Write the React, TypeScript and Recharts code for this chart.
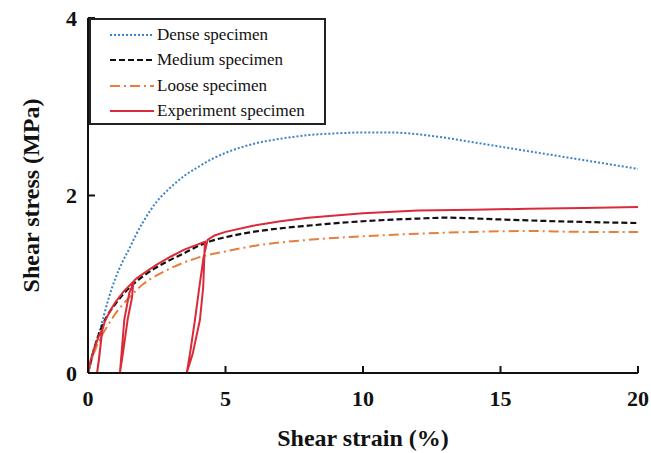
import { LineChart, Line, XAxis, YAxis } from "recharts";

type Pt = { x: number; y: number };

const xTicks = [0, 5, 10, 15, 20];
const yTicks = [0, 2, 4];

const denseStrain = [0, 0.25, 0.5, 0.75, 1, 1.25, 1.5, 1.75, 2, 2.5, 3, 3.5, 4, 4.5, 5, 6, 7, 8, 9, 10, 11, 12, 13, 14, 15, 16, 17, 18, 19, 20];
const denseStress = [0, 0.29, 0.56, 0.84, 1.07, 1.25, 1.4, 1.56, 1.7, 1.93, 2.09, 2.22, 2.32, 2.41, 2.48, 2.58, 2.64, 2.68, 2.7, 2.71, 2.71, 2.69, 2.65, 2.6, 2.55, 2.5, 2.45, 2.4, 2.35, 2.3];

const mediumStrain = [0, 0.25, 0.5, 0.62, 1, 1.5, 2, 2.9, 3.5, 4, 4.5, 5, 6, 7, 8, 10, 12, 13, 15, 17, 20];
const mediumStress = [0, 0.3, 0.52, 0.6, 0.78, 0.96, 1.09, 1.26, 1.35, 1.43, 1.49, 1.53, 1.59, 1.63, 1.66, 1.71, 1.74, 1.75, 1.73, 1.71, 1.69];

const looseStrain = [0, 0.25, 0.5, 0.75, 1, 1.5, 2, 2.5, 3, 4, 5, 6, 8, 10, 12, 14, 16, 18, 20];
const looseStress = [0, 0.25, 0.42, 0.55, 0.67, 0.85, 1.0, 1.1, 1.18, 1.3, 1.37, 1.43, 1.5, 1.54, 1.57, 1.59, 1.6, 1.59, 1.59];

// experiment: envelope with three unload / reload loops
const expStrain = [
  0, 0.1, 0.25, 0.4, 0.5, 0.45, 0.38, 0.33, 0.4, 0.46, 0.52, 0.6,
  0.8, 1.0, 1.3, 1.65, 1.6, 1.44, 1.27, 1.16, 1.22, 1.32, 1.5, 1.7,
  1.83, 2.2, 2.5, 3.0, 3.5, 4.0, 4.25, 4.19, 4.07, 3.81, 3.59, 3.71, 3.89, 4.05, 4.2, 4.35,
  4.6, 5, 6, 7, 8, 10, 12, 14, 16, 18, 20,
];
const expStress = [
  0, 0.15, 0.3, 0.42, 0.48, 0.3, 0.12, 0, 0.15, 0.32, 0.48, 0.57,
  0.7, 0.8, 0.92, 1.03, 0.85, 0.6, 0.22, 0, 0.22, 0.6, 0.9, 1.05,
  1.08, 1.16, 1.22, 1.31, 1.39, 1.45, 1.48, 0.97, 0.6, 0.22, 0, 0.22, 0.6, 0.97, 1.3, 1.5,
  1.55, 1.59, 1.66, 1.71, 1.75, 1.8, 1.83, 1.84, 1.85, 1.86, 1.87,
];

const zip = (xs: number[], ys: number[]): Pt[] => xs.map((x, i) => ({ x, y: ys[i] }));

const series = [
  { name: "Dense specimen", data: zip(denseStrain, denseStress), color: "#3b82c8", dash: "2 2", width: 2, curve: "monotone" },
  { name: "Medium specimen", data: zip(mediumStrain, mediumStress), color: "#111111", dash: "6 3", width: 2.2, curve: "monotone" },
  { name: "Loose specimen", data: zip(looseStrain, looseStress), color: "#e67e3c", dash: "10 4 2 4", width: 2, curve: "monotone" },
  { name: "Experiment specimen", data: zip(expStrain, expStress), color: "#d92b3a", dash: undefined, width: 2, curve: "linear" },
] as const;

const serif = "'Liberation Serif', 'Times New Roman', serif";

function LegendBox() {
  return (
    <div
      style={{
        position: "absolute",
        left: 89,
        top: 18,
        width: 237,
        height: 107,
        border: "2px solid #222",
        background: "#fff",
        boxSizing: "border-box",
        padding: "2px 0 0 19px",
        fontFamily: serif,
        fontSize: 17,
        color: "#111",
      }}
    >
      {series.map((s) => (
        <div key={s.name} style={{ display: "flex", alignItems: "center", height: 25.5 }}>
          <svg width={44} height={10} style={{ marginRight: 3 }}>
            <line x1={0} y1={5} x2={44} y2={5} stroke={s.color} strokeWidth={2} strokeDasharray={s.dash} />
          </svg>
          <span>{s.name}</span>
        </div>
      ))}
    </div>
  );
}

export default function App() {
  return (
    <div style={{ position: "absolute", left: 0, top: 0, width: 651, height: 453, background: "#fff" }}>
      <LineChart width={651} height={453} margin={{ top: 18, right: 13, left: 28, bottom: 0 }}>
        <XAxis
          dataKey="x"
          type="number"
          domain={[0, 20]}
          ticks={xTicks}
          height={80}
          tickSize={-7}
          tickMargin={24}
          stroke="#111"
          strokeWidth={2}
          tick={{ fill: "#111", fontFamily: serif, fontWeight: "bold", fontSize: 22 }}
          label={{ value: "Shear strain (%)", position: "center", dy: 24, fill: "#111", fontFamily: serif, fontWeight: "bold", fontSize: 24 }}
        />
        <XAxis xAxisId="top" orientation="top" type="number" domain={[0, 20]} height={0} tick={false} tickLine={false} stroke="#111" strokeWidth={2} />
        <YAxis
          dataKey="y"
          type="number"
          domain={[0, 4]}
          ticks={yTicks}
          width={60}
          tickSize={-7}
          tickMargin={18}
          stroke="#111"
          strokeWidth={2}
          tick={{ fill: "#111", fontFamily: serif, fontWeight: "bold", fontSize: 22 }}
          label={{ value: "Shear stress (MPa)", angle: -90, position: "center", dx: -28, fill: "#111", fontFamily: serif, fontWeight: "bold", fontSize: 24 }}
        />
        <YAxis yAxisId="right" orientation="right" type="number" domain={[0, 4]} width={0} tick={false} tickLine={false} stroke="#111" strokeWidth={2} />
        {series.map((s) => (
          <Line
            key={s.name}
            data={s.data as Pt[]}
            dataKey="y"
            name={s.name}
            type={s.curve}
            stroke={s.color}
            strokeWidth={s.width}
            strokeDasharray={s.dash}
            dot={false}
            isAnimationActive={false}
          />
        ))}
      </LineChart>
      <LegendBox />
    </div>
  );
}
